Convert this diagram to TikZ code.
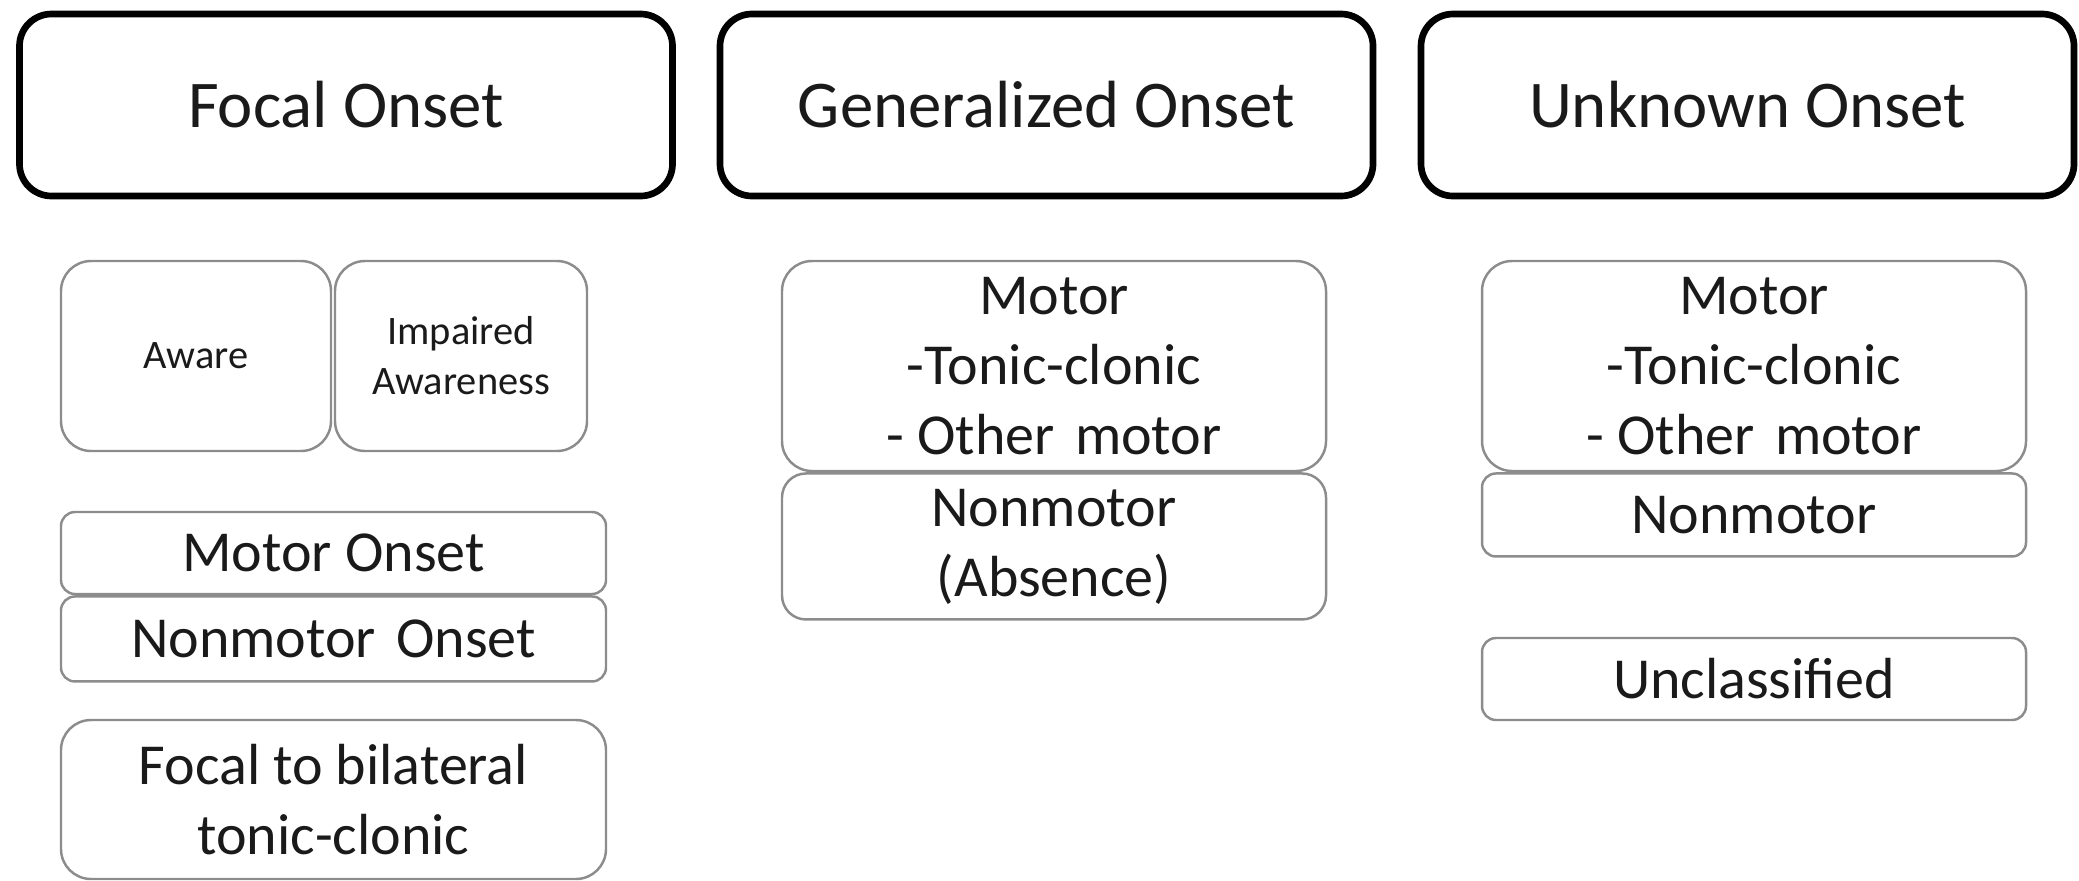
\documentclass[tikz,border=0pt]{standalone}
\usepackage{fontspec}
\setmainfont{Carlito}
\usetikzlibrary{positioning}
\definecolor{boxgray}{HTML}{8C8C8C}
\definecolor{txt}{HTML}{1A1A1A}

\begin{document}
\begin{tikzpicture}[
      onset/.style={draw=black, line width=1.9pt, rounded corners=0.32cm, minimum width=6.53cm, minimum height=1.82cm, inner sep=0pt, text=txt, font=\fontsize{19}{23}\selectfont},
      sub/.style={draw=boxgray, line width=0.7pt, rounded corners=0.3cm, minimum width=5.45cm, inner sep=0pt, align=center, text=txt, font=\fontsize{16.5}{19.9}\selectfont},
      strip/.style={sub, rounded corners=0.14cm},
      small/.style={sub, font=\fontsize{11.5}{14.2}\selectfont, minimum height=1.90cm}
    ]
      \useasboundingbox (0,0) rectangle (20.79,-8.80);

      % Onset headings
      \node[onset] (focal) at (3.46,-1.05) {Focal Onset};
      \node[onset] (gen) at (10.465,-1.05) {Generalized Onset};
      \node[onset] (unk) at (17.475,-1.05) {Unknown Onset};

      % Focal column
      \node[small, minimum width=2.70cm] (aware) at (1.96,-3.56) {Aware};
      \node[small, minimum width=2.52cm] (impaired) at (4.61,-3.56) {Impaired\\Awareness};
      \node[strip, minimum height=0.82cm] (motoron) at (3.335,-5.53) {Motor Onset};
      \node[strip, minimum height=0.85cm, below=0pt of motoron] (nonmotoron) {Nonmotor\hspace{0.35em}Onset};
      \node[sub, minimum height=1.59cm] (bilat) at (3.335,-7.995) {Focal to bilateral\\tonic-clonic};

      % Generalized column
      \node[sub, minimum width=5.44cm, minimum height=2.10cm] (genmotor) at (10.54,-3.66) {Motor\\-Tonic-clonic\\- Other\hspace{0.35em}motor};
      \node[sub, minimum width=5.44cm, minimum height=1.46cm, rounded corners=0.24cm, below=0pt of genmotor] (genabs) {Nonmotor\\(Absence)};

      % Unknown column
      \node[sub, minimum width=5.44cm, minimum height=2.10cm] (unkmotor) at (17.54,-3.66) {Motor\\-Tonic-clonic\\- Other\hspace{0.35em}motor};
      \node[strip, minimum width=5.44cm, minimum height=0.83cm, below=0pt of unkmotor] (unknon) {Nonmotor};
      \node[strip, minimum width=5.44cm, minimum height=0.82cm] (unclass) at (17.54,-6.79) {Unclassified};
    \end{tikzpicture}
\end{document}
